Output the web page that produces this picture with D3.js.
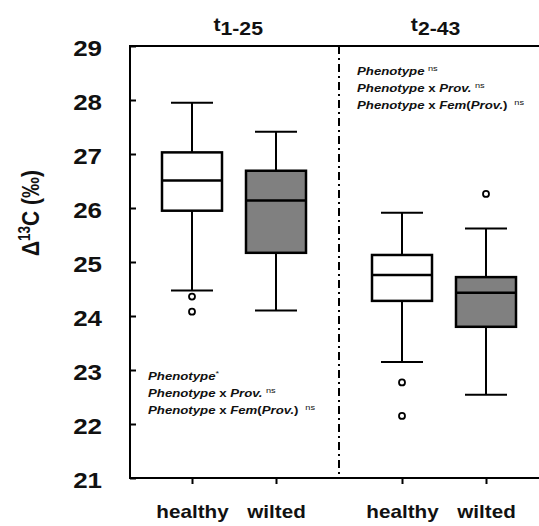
<!DOCTYPE html>
<html><head><meta charset="utf-8">
<script src="https://cdn.jsdelivr.net/npm/d3@7"></script>
<style>
body{margin:0;background:#fff;}
text{font-family:Arial,"Liberation Sans",Helvetica,sans-serif;}
</style></head>
<body><svg id="c" width="539" height="526"></svg>
<script>
// ---- data ----
const categories = ["healthy","wilted","healthy","wilted"];
const periods = ["t1-25","t1-25","t2-43","t2-43"];
const positions = [1, 2, 3.5, 4.5];
const whiskerHigh = [27.95, 27.41, 25.91, 25.62];
const q3Values    = [27.03, 26.69, 25.13, 24.72];
const medians     = [26.51, 26.14, 24.76, 24.43];
const q1Values    = [25.95, 25.17, 24.28, 23.80];
const whiskerLow  = [24.47, 24.10, 23.15, 22.54];
const outliers    = [[24.36, 24.08], [], [22.77, 22.15], [26.26]];
const yTicks = [21,22,23,24,25,26,27,28,29];
const periodTitles = [{t:"t", sub:"1-25", at:1.55},{t:"t", sub:"2-43", at:3.9}];
const fills = ["#ffffff","#808080","#ffffff","#808080"];

const svg = d3.select("#c");
const y = d3.scaleLinear().domain([21,29]).range([478,46]);
const x = d3.scaleLinear().domain([1,4.5]).range([192,486]);
const SX = 1.18;
const boxW = 60, capW = 42;
const axisX = 130, rightX = 539;

// y axis
const ya = svg.append("g").attr("transform",`translate(${axisX},0)`)
  .call(d3.axisLeft(y).tickValues(yTicks).tickSize(-6).tickFormat(d3.format("d")));
ya.select(".domain").remove();
ya.selectAll(".tick line").attr("stroke","#000").attr("stroke-width",2);
ya.selectAll(".tick text").attr("x",null).attr("dy","0.36em")
  .attr("transform","translate(-28,2) scale(" + SX + ",1)")
  .attr("text-anchor","end").attr("font-size",22).attr("font-weight","bold").attr("fill","#111");

// frame lines
svg.append("line").attr("x1",axisX).attr("x2",axisX).attr("y1",y(29)-1).attr("y2",y(21)+1).attr("stroke","#000").attr("stroke-width",2);
svg.append("line").attr("x1",axisX).attr("x2",rightX).attr("y1",y(29)).attr("y2",y(29)).attr("stroke","#000").attr("stroke-width",2);
svg.append("line").attr("x1",axisX).attr("x2",rightX).attr("y1",y(21)).attr("y2",y(21)).attr("stroke","#000").attr("stroke-width",2);

// x axis ticks & labels
const xa = svg.append("g").attr("transform",`translate(0,${y(21)})`)
  .call(d3.axisBottom(x).tickValues(positions).tickSize(6).tickFormat((d,i)=>categories[i]));
xa.select(".domain").remove();
xa.selectAll(".tick line").attr("stroke","#000").attr("stroke-width",2);
xa.selectAll(".tick text").attr("y",null).attr("dy",null)
  .attr("transform","translate(0,40) scale(" + SX + ",1)")
  .attr("font-size",17.5).attr("font-weight","bold").attr("fill","#111");

// divider
const divX = x((positions[1]+positions[2])/2);
svg.append("line").attr("x1",divX).attr("x2",divX).attr("y1",y(29)).attr("y2",y(21))
  .attr("stroke","#000").attr("stroke-width",2).attr("stroke-dasharray","8,4,2,4");

// boxes
const data = categories.map((c,i)=>({c, p:positions[i], hi:whiskerHigh[i], q3:q3Values[i], med:medians[i], q1:q1Values[i], lo:whiskerLow[i], out:outliers[i], fill:fills[i]}));
const g = svg.append("g").selectAll("g").data(data).join("g");
g.append("line").attr("x1",d=>x(d.p)).attr("x2",d=>x(d.p)).attr("y1",d=>y(d.hi)).attr("y2",d=>y(d.q3)).attr("stroke","#000").attr("stroke-width",2);
g.append("line").attr("x1",d=>x(d.p)).attr("x2",d=>x(d.p)).attr("y1",d=>y(d.q1)).attr("y2",d=>y(d.lo)).attr("stroke","#000").attr("stroke-width",2);
g.append("line").attr("x1",d=>x(d.p)-capW/2).attr("x2",d=>x(d.p)+capW/2).attr("y1",d=>y(d.hi)).attr("y2",d=>y(d.hi)).attr("stroke","#000").attr("stroke-width",2);
g.append("line").attr("x1",d=>x(d.p)-capW/2).attr("x2",d=>x(d.p)+capW/2).attr("y1",d=>y(d.lo)).attr("y2",d=>y(d.lo)).attr("stroke","#000").attr("stroke-width",2);
g.append("rect").attr("x",d=>x(d.p)-boxW/2).attr("width",boxW).attr("y",d=>y(d.q3)).attr("height",d=>y(d.q1)-y(d.q3))
  .attr("fill",d=>d.fill).attr("stroke","#000").attr("stroke-width",2.5);
g.append("line").attr("x1",d=>x(d.p)-boxW/2).attr("x2",d=>x(d.p)+boxW/2).attr("y1",d=>y(d.med)).attr("y2",d=>y(d.med)).attr("stroke","#000").attr("stroke-width",2.5);
g.selectAll("circle").data(d=>d.out.map(v=>({p:d.p,v}))).join("circle")
  .attr("cx",d=>x(d.p)).attr("cy",d=>y(d.v)).attr("r",3).attr("fill","#fff").attr("stroke","#000").attr("stroke-width",1.8);

// period titles
periodTitles.forEach(pt=>{
  const t = svg.append("text").attr("transform",`translate(${x(pt.at)},35) scale(${SX},1)`)
    .attr("text-anchor","middle").attr("font-size",18).attr("font-weight","bold").attr("fill","#111");
  t.append("tspan").attr("dy",-4).text(pt.t);
  t.append("tspan").attr("dy",4).text(pt.sub);
});

// annotations
function annot(x0, y0, lines){
  lines.forEach((parts,i)=>{
    const t = svg.append("text").attr("transform",`translate(${x0},${y0+i*17}) scale(1.15,1)`)
      .attr("font-size",11.5).attr("font-weight","bold").attr("fill","#111");
    parts.forEach(p=>{
      const s = t.append("tspan").text(p.s);
      if(p.i) s.attr("font-style","italic");
      if(p.sup){ s.attr("font-size",8).attr("font-weight","normal").attr("dy",-4); }
      if(p.dx) s.attr("dx",p.dx);
    });
  });
}
const statTop = [
  [{s:"Phenotype",i:1},{s:"ns",sup:1,dx:3}],
  [{s:"Phenotype",i:1},{s:" x "},{s:"Prov.",i:1},{s:"ns",sup:1,dx:3}],
  [{s:"Phenotype",i:1},{s:" x "},{s:"Fem",i:1},{s:"("},{s:"Prov.",i:1},{s:")"},{s:"ns",sup:1,dx:6}]
];
const statBottom = [
  [{s:"Phenotype",i:1},{s:"*",sup:1}],
  [{s:"Phenotype",i:1},{s:" x "},{s:"Prov.",i:1},{s:"ns",sup:1,dx:3}],
  [{s:"Phenotype",i:1},{s:" x "},{s:"Fem",i:1},{s:"("},{s:"Prov.",i:1},{s:")"},{s:"ns",sup:1,dx:6}]
];
annot(357, 75, statTop);
annot(148, 380, statBottom);

// y label
const yl = svg.append("text").attr("transform","translate(39,213) rotate(-90) scale(1,1.18)")
  .attr("text-anchor","middle").attr("font-size",21).attr("font-weight","bold").attr("fill","#111");
yl.append("tspan").text("Δ");
yl.append("tspan").attr("font-size",13.5).attr("dy",-8).text("13");
yl.append("tspan").attr("dy",8).text("C (‰)");
</script></body></html>
